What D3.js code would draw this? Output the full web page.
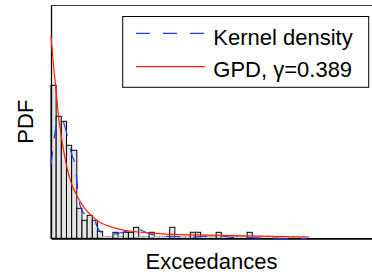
<!DOCTYPE html>
<html>
<head>
<meta charset="utf-8">
<script src="https://cdn.jsdelivr.net/npm/d3@7"></script>
<style>
  html, body { margin: 0; padding: 0; background: #fff; }
  svg { display: block; font-family: "Liberation Sans", Arial, Helvetica, sans-serif; }
</style>
</head>
<body>
<svg id="chart" width="372" height="280"></svg>
<script>
/* ---------- data ---------- */
// histogram: bin width 0.1, bins start at 0
const binWidth  = 0.1;
const histPdf   = [1.53, 1.22, 1.17, 0.93, 0.88, 0.30, 0.18, 0.23, 0.18, 0.07,
                   0, 0, 0.06, 0, 0.06, 0.06, 0.11, 0, 0, 0.06,
                   0, 0, 0, 0.11, 0, 0, 0, 0.06, 0.06, 0,
                   0, 0, 0.06, 0, 0, 0, 0, 0, 0.06, 0,
                   0, 0, 0, 0, 0, 0, 0, 0, 0, 0];

// kernel density estimate
const kdeX = [0, 0.039, 0.078, 0.116, 0.174, 0.233, 0.291, 0.349, 0.407, 0.465,
              0.504, 0.543, 0.581, 0.659, 0.756, 0.833, 0.891, 0.950, 1.047, 1.182,
              1.337, 1.473, 1.589, 1.686, 1.783, 1.919, 2.112, 2.364, 2.694, 2.888,
              3.081, 3.236, 3.430, 3.663, 4.050, 4.438, 4.690, 4.961];
const kdeY = [0.73, 0.90, 1.06, 1.15, 1.20, 1.17, 1.08, 0.95, 0.83, 0.73,
              0.56, 0.38, 0.30, 0.24, 0.22, 0.21, 0.12, 0.07, 0.045, 0.04,
              0.053, 0.073, 0.093, 0.093, 0.073, 0.043, 0.023, 0.018, 0.013, 0.018,
              0.023, 0.028, 0.013, 0.008, 0.003, 0.0, -0.007, 0.0];

// fitted GPD
const gpdX = [0, 0.05, 0.1, 0.15, 0.2, 0.3, 0.4, 0.5, 0.6, 0.7, 0.8, 0.9, 1.0,
              1.2, 1.4, 1.6, 1.8, 2.0, 2.5, 3.0, 3.5, 4.0, 4.5, 4.97];
const gpdY = [2.02, 1.72, 1.47, 1.20, 1.02, 0.73, 0.54, 0.43, 0.34, 0.27, 0.22, 0.175, 0.145,
              0.11, 0.082, 0.068, 0.058, 0.05, 0.037, 0.032, 0.027, 0.022, 0.017, 0.013];

const legendLabels = ["Kernel density", "GPD, \u03b3=0.389"];
const xLabel = "Exceedances";
const yLabel = "PDF";

/* ---------- layout ---------- */
const svg = d3.select("#chart");
const plot = { left: 51, right: 372, top: 5, bottom: 238.3 };

const x = d3.scaleLinear().domain([0, 6.22]).range([plot.left, plot.right]);
const y = d3.scaleLinear().domain([0, 2.333]).range([plot.bottom, plot.top]);

svg.append("rect").attr("width", 372).attr("height", 280).attr("fill", "#fff");

/* ---------- histogram ---------- */
const bins = histPdf.map((v, i) => ({ x0: i * binWidth, x1: (i + 1) * binWidth, v }));
svg.append("g").selectAll("rect")
  .data(bins)
  .join("rect")
    .attr("x", d => x(d.x0))
    .attr("width", d => x(d.x1) - x(d.x0))
    .attr("y", d => d.v > 0 ? y(d.v) : plot.bottom - 2)
    .attr("height", d => d.v > 0 ? y(0) - y(d.v) : 2)
    .attr("fill", "#e4e4e4")
    .attr("stroke", d => d.v > 0 ? "#000" : "#999")
    .attr("stroke-width", d => d.v > 0 ? 1 : 0.7);

/* ---------- axes (box without ticks) ---------- */
const axisStyle = (g, w, c) => {
  g.select(".domain").attr("stroke", c).attr("stroke-width", w);
  g.selectAll(".tick").remove();
};
svg.append("g").attr("transform", `translate(0,${plot.bottom})`)
  .call(d3.axisBottom(x).tickValues([]).tickSizeOuter(0))
  .call(g => axisStyle(g, 1.8, "#000"));
svg.append("g").attr("transform", `translate(0,${plot.top})`)
  .call(d3.axisTop(x).tickValues([]).tickSizeOuter(0))
  .call(g => axisStyle(g, 1, "#333"));
svg.append("g").attr("transform", `translate(${plot.left},0)`)
  .call(d3.axisLeft(y).tickValues([]).tickSizeOuter(0))
  .call(g => axisStyle(g, 1.3, "#000"));

/* ---------- curves ---------- */
const line = d3.line().x(d => x(d[0])).y(d => y(d[1])).curve(d3.curveMonotoneX);

svg.append("path")
  .datum(d3.zip(kdeX, kdeY))
  .attr("d", line)
  .attr("fill", "none")
  .attr("stroke", "#1a3cff")
  .attr("stroke-width", 1.2)
  .attr("stroke-dasharray", "14,13");

svg.append("path")
  .datum(d3.zip(gpdX, gpdY))
  .attr("d", line)
  .attr("fill", "none")
  .attr("stroke", "#ff2200")
  .attr("stroke-width", 1.2);

/* ---------- legend ---------- */
const lg = svg.append("g");
lg.append("rect")
  .attr("x", 122.7).attr("y", 16.5).attr("width", 246).attr("height", 70.8)
  .attr("fill", "#fff").attr("stroke", "#000").attr("stroke-width", 1);

const legendItems = [
  { label: legendLabels[0], color: "#1a3cff", dash: "14,13", ly: 33.3, ty: 45 },
  { label: legendLabels[1], color: "#ff2200", dash: null,    ly: 66.7, ty: 77.3 }
];
legendItems.forEach(it => {
  lg.append("line")
    .attr("x1", 136).attr("x2", 205).attr("y1", it.ly).attr("y2", it.ly)
    .attr("stroke", it.color).attr("stroke-width", 1.2)
    .attr("stroke-dasharray", it.dash);
  lg.append("text")
    .attr("x", 213.3).attr("y", it.ty)
    .attr("font-size", 22).attr("fill", "#000")
    .text(it.label);
});

/* ---------- labels ---------- */
svg.append("text")
  .attr("x", (plot.left + plot.right) / 2).attr("y", 269)
  .attr("text-anchor", "middle").attr("font-size", 22)
  .text(xLabel);

svg.append("text")
  .attr("transform", `translate(33.3,${(plot.top + plot.bottom) / 2}) rotate(-90)`)
  .attr("text-anchor", "middle").attr("font-size", 22)
  .text(yLabel);
</script>
</body>
</html>
